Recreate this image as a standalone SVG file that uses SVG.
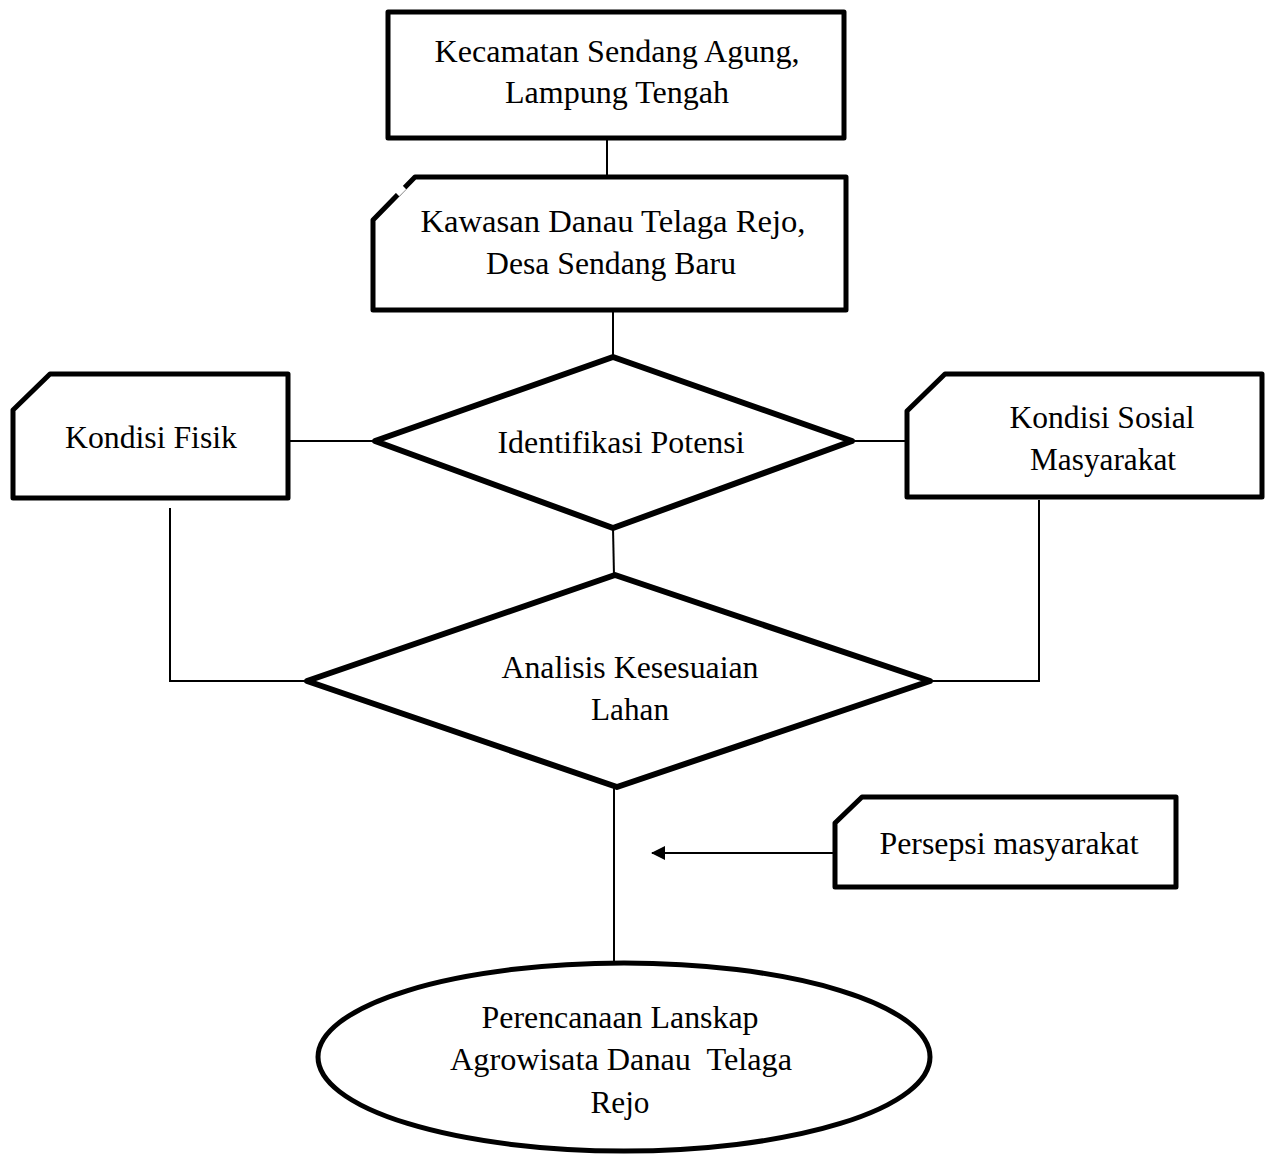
<svg xmlns="http://www.w3.org/2000/svg" width="1272" height="1155" viewBox="0 0 1272 1155">
<style>
.box{fill:#fff;stroke:#000;stroke-width:5;stroke-linejoin:round}
.con{fill:none;stroke:#000;stroke-width:2}
.t{font-family:"Liberation Serif","Times New Roman",serif;font-size:31px;fill:#000;text-anchor:middle}
</style>
<defs>
<marker id="ah" viewBox="0 0 14 14" refX="13" refY="7" markerWidth="14" markerHeight="14" markerUnits="userSpaceOnUse" orient="auto">
<path d="M0,0 L14,7 L0,14 Z" fill="#000"/>
</marker>
</defs>
<rect width="1272" height="1155" fill="#fff"/>
<g id="connectors">
<line class="con" x1="607" y1="138" x2="607" y2="178"/>
<line class="con" x1="613" y1="310" x2="613" y2="357"/>
<line class="con" x1="290" y1="441" x2="375" y2="441"/>
<line class="con" x1="852" y1="441" x2="907" y2="441"/>
<line class="con" x1="613" y1="528" x2="614" y2="576"/>
<polyline class="con" points="170,508 170,681 307,681"/>
<polyline class="con" points="1039,500 1039,681 930,681"/>
<line class="con" x1="614" y1="788" x2="614" y2="962"/>
<line class="con" x1="835" y1="853" x2="652" y2="853" marker-end="url(#ah)"/>
</g>
<g id="node-kecamatan">
<rect class="box" x="388" y="12" width="456" height="126"/>
<text class="t" x="617" y="62" textLength="365" lengthAdjust="spacingAndGlyphs">Kecamatan Sendang Agung,</text>
<text class="t" x="617" y="103" textLength="224" lengthAdjust="spacingAndGlyphs">Lampung Tengah</text>
</g>
<g id="node-kawasan">
<path class="box" d="M415,177 L846,177 L846,310 L373,310 L373,220 Z"/>
<line x1="396" y1="193" x2="403" y2="186" stroke="#fff" stroke-width="9"/>
<text class="t" x="613" y="232" textLength="385" lengthAdjust="spacingAndGlyphs">Kawasan Danau Telaga Rejo,</text>
<text class="t" x="611" y="274" textLength="250" lengthAdjust="spacingAndGlyphs">Desa Sendang Baru</text>
</g>
<g id="node-fisik">
<path class="box" d="M50,374 L288,374 L288,498 L13,498 L13,410 Z"/>
<text class="t" x="151" y="448" textLength="172" lengthAdjust="spacingAndGlyphs">Kondisi Fisik</text>
</g>
<g id="node-identifikasi">
<polygon class="box" points="375,441 613,357 852,441 613,528" style="stroke-width:6"/>
<text class="t" x="621" y="453" textLength="247" lengthAdjust="spacingAndGlyphs">Identifikasi Potensi</text>
</g>
<g id="node-sosial">
<path class="box" d="M945,374 L1262,374 L1262,497 L907,497 L907,411 Z"/>
<text class="t" x="1102" y="428" textLength="185" lengthAdjust="spacingAndGlyphs">Kondisi Sosial</text>
<text class="t" x="1103" y="470" textLength="146" lengthAdjust="spacingAndGlyphs">Masyarakat</text>
</g>
<g id="node-analisis">
<polygon class="box" points="307,681 615,575 930,681 617,787" style="stroke-width:6"/>
<text class="t" x="630" y="678" textLength="257" lengthAdjust="spacingAndGlyphs">Analisis Kesesuaian</text>
<text class="t" x="630" y="720" textLength="78" lengthAdjust="spacingAndGlyphs">Lahan</text>
</g>
<g id="node-persepsi">
<path class="box" d="M862,797 L1176,797 L1176,887 L835,887 L835,823 Z"/>
<text class="t" x="1009" y="854" textLength="259" lengthAdjust="spacingAndGlyphs">Persepsi masyarakat</text>
</g>
<g id="node-perencanaan">
<ellipse class="box" cx="624" cy="1057" rx="306" ry="94"/>
<text class="t" x="620" y="1028" textLength="277" lengthAdjust="spacingAndGlyphs">Perencanaan Lanskap</text>
<text class="t" x="621" y="1070" textLength="342" lengthAdjust="spacingAndGlyphs" xml:space="preserve">Agrowisata Danau  Telaga</text>
<text class="t" x="620" y="1113" textLength="59" lengthAdjust="spacingAndGlyphs">Rejo</text>
</g>
</svg>
